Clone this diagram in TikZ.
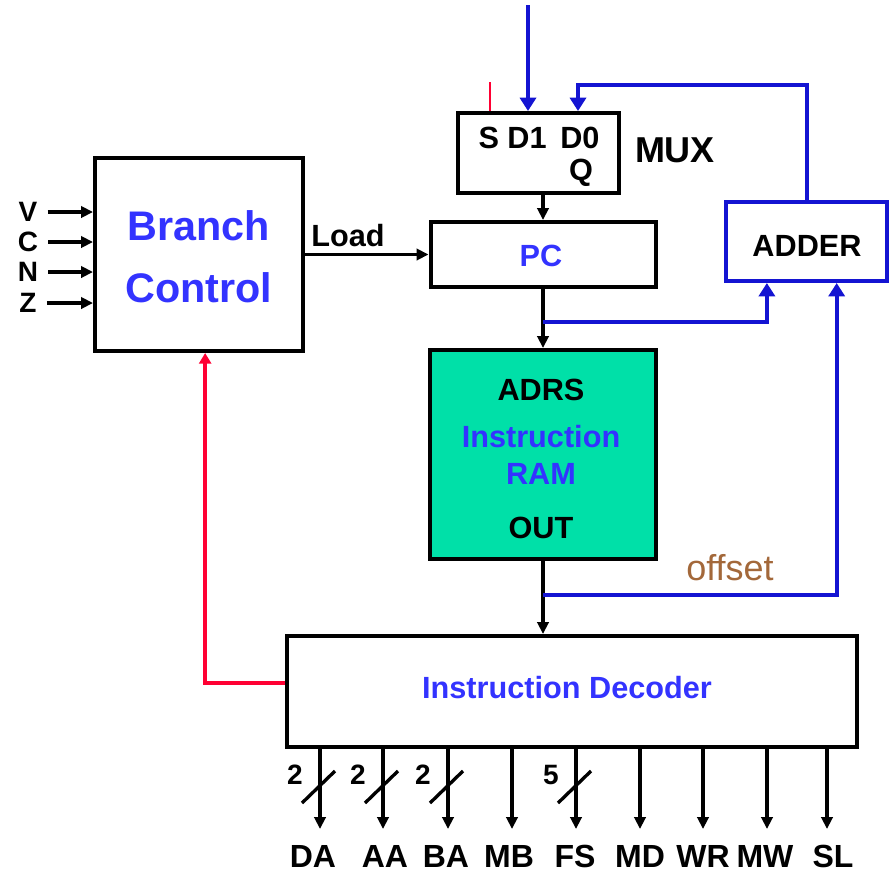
\documentclass[tikz,border=0pt]{standalone}
\usepackage{fontspec}
\setmainfont{Liberation Sans}
\usetikzlibrary{arrows.meta, positioning, calc}
\definecolor{ctlblue}{HTML}{3333ff}
\definecolor{busblue}{HTML}{1414d2}
\definecolor{ramgreen}{HTML}{00e0a8}
\definecolor{selred}{HTML}{ff0033}
\definecolor{offbrown}{HTML}{a3683a}

\tikzset{
  blk/.style={draw, line width=3pt, inner sep=0pt},
  txt/.style={inner sep=0pt, font=\fontsize{23}{26}\selectfont\bfseries},
  sig/.style={line width=2.5pt, -{Triangle[length=9pt, width=8.5pt]}},
  bus/.style={busblue, line width=3pt, -{Triangle[length=10pt, width=12pt]}},
  ctl/.style={selred, line width=3pt, -{Triangle[length=8pt, width=9pt]}},
}

\begin{document}
\begin{tikzpicture}[x=0.75pt, y=-0.75pt]
    \useasboundingbox (0,0) rectangle (889,872);

    % blocks
    \node[blk, minimum width=156pt, minimum height=144.75pt] (bc) at (199,254.5) {};
    \node[blk, minimum width=120.75pt, minimum height=60pt] (mux) at (538.5,153) {};
    \node[blk, minimum width=168.75pt, minimum height=48.75pt] (pc) at (543,254.5) {};
    \node[blk, draw=busblue, minimum width=120.75pt, minimum height=59.25pt] (adder) at (806.5,241.5) {};
    \node[blk, fill=ramgreen, minimum width=169.5pt, minimum height=156.75pt] (ram) at (543,454.5) {};
    \node[blk, minimum width=427.5pt, minimum height=83.25pt] (dec) at (572,691.5) {};

    % texts in the blocks
    \node[txt, ctlblue, font=\fontsize{31}{34}\selectfont\bfseries] (bctop) at (199,226) {Branch};
    \node[txt, ctlblue, font=\fontsize{31}{34}\selectfont\bfseries] (bcbot) at (199,288) {Control};
    \node[txt] (muxin) at (539,138) {S D1 \,D0};
    \node[txt] (muxq) at (581,173) {Q};
    \node[txt, font=\fontsize{27}{30}\selectfont\bfseries] (muxname) at (675,150) {MUX};
    \node[txt, ctlblue] (pcname) at (541,256) {PC};
    \node[txt] (addname) at (807,246) {ADDER};
    \node[txt] (adrs) at (541,390) {ADRS};
    \node[txt, ctlblue] (ramtop) at (541,437) {Instruction};
    \node[txt, ctlblue] (rambot) at (541,474) {RAM};
    \node[txt] (ramout) at (541,528) {OUT};
    \node[txt, ctlblue] (decname) at (567,688) {Instruction Decoder};
    \node[txt, font=\fontsize{27}{30}\selectfont, offbrown] (offset) at (730,568) {offset};

    % condition inputs
    \foreach \n/\y in {V/212, C/242, N/272, Z/303} {
      \node[txt, font=\fontsize{21}{24}\selectfont\bfseries] (f\n) at (28,\y) {\n};
      \draw[sig] ([xshift=7.5pt]f\n.east) -- (f\n -| bc.west);
    }

    % load
    \node[txt] (load) at (348,236) {Load};
    \draw[sig] (bc.east) -- (pc.west);

    % mux inputs
    \coordinate (sel) at (490,82);
    \coordinate (d1in) at (528,5);
    \coordinate (d0in) at (578,85);
    \draw[selred, line width=1.2pt] (sel) -- (sel |- mux.north);
    \draw[bus] (d1in) -- (d1in |- mux.north);
    \draw[bus] (adder.north) |- (d0in) -- (d0in |- mux.north);

    % pc path
    \draw[sig] (pc.north |- mux.south) -- (pc.north);
    \draw[sig] (pc.south) -- (ram.north);
    \coordinate (addA) at ($(adder.south west)!0.26!(adder.south east)$);
    \coordinate (addB) at ($(adder.south west)!0.683!(adder.south east)$);
    \coordinate (pcbr) at (543,322);
    \coordinate (rambr) at (543,595);
    \draw[bus] (pcbr) -| (addA);
    \draw[sig] (ram.south) -- (ram.south |- dec.north);
    \draw[bus] (rambr) -| (addB);

    % branch feedback
    \coordinate (bcin) at ($(bc.south west)!0.529!(bc.south east)$);
    \draw[ctl] ([yshift=6.4pt]dec.west) -| (bcin);

    % decoder outputs
    \foreach \x/\nm/\lx/\w in {320/DA/313/3.5, 383/AA/385/3.5, 448/BA/446/3.5,
      512/MB/509/2.5, 576/FS/575/3.5, 640/MD/640/2.5, 703/WR/703/2.5,
      767/MW/765/2.5, 827/SL/833/2.5} {
      \node[txt, font=\fontsize{24}{27}\selectfont\bfseries] (o\nm) at (\lx,856) {\nm};
      \coordinate (t\nm) at (\x,829);
      \draw[line width=\w pt, -{Triangle[length=9pt, width=8.5pt]}] (t\nm |- dec.south) -- (t\nm);
    }
    \foreach \nm/\bits in {DA/2, AA/2, BA/2, FS/5} {
      \draw[line width=2.5pt] ($(t\nm |- dec.south)+(-18,54)$) -- ++(33,-32);
      \node[txt, font=\fontsize{21}{24}\selectfont\bfseries] (b\nm) at ($(t\nm |- dec.south)+(-25,26)$) {\bits};
    }
  \end{tikzpicture}
\end{document}
